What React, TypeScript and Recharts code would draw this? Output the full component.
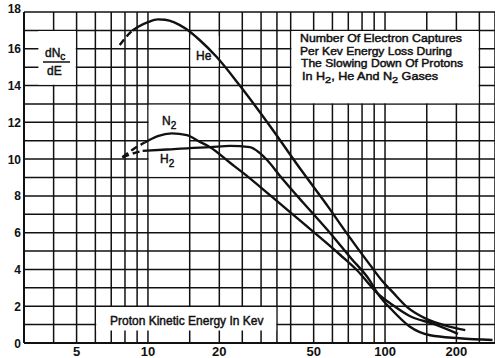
import {
  LineChart,
  Line,
  XAxis,
  YAxis,
  CartesianGrid,
  ReferenceArea,
} from "recharts";

// axis grid and labels
const X_GRID = [3, 4, 5, 6, 7, 8, 9, 10, 15, 20, 25, 30, 35, 40, 50, 60, 70, 80, 90, 100, 150, 200, 250];
const X_LABELS = [5, 10, 20, 50, 100, 200];
const Y_GRID = [0, 1, 2, 3, 4, 5, 6, 7, 8, 9, 10, 11, 12, 13, 14, 15, 16, 17, 18];
const Y_LABELS = [0, 2, 4, 6, 8, 10, 12, 14, 16, 18];

// He (kev, dNc/dE)
const HE_DASH_E = [7.6, 8.1, 8.6];
const HE_DASH_Y = [16.2, 16.65, 17.0];
const HE_E = [8.6, 9.1, 10, 11, 11.8, 14.4, 16.6, 19.5, 24.4, 32.7, 44.6, 58, 67.8, 86.4, 97, 108, 124, 150, 180, 218];
const HE_Y = [17.0, 17.2, 17.45, 17.6, 17.58, 17.1, 16.45, 15.55, 14.0, 11.8, 9.35, 7.35, 6.1, 4.25, 3.4, 2.75, 1.95, 1.3, 0.95, 0.7];

// N2
const N2_DASH_E = [7.8, 8.7, 9.7];
const N2_DASH_Y = [10.1, 10.55, 10.9];
const N2_E = [9.7, 11, 12.6, 14.6, 16.5, 18.3, 22.2, 25.2, 33, 42.5, 64.6, 76, 93, 108, 127, 159, 203];
const N2_Y = [10.9, 11.25, 11.4, 11.3, 10.95, 10.65, 9.8, 9.25, 8.0, 6.8, 4.8, 3.97, 2.7, 2.05, 1.47, 1.05, 0.5];

// H2
const H2_DASH_E = [7.8, 8.6, 9.5];
const H2_DASH_Y = [10.1, 10.3, 10.45];
const H2_E = [9.5, 12, 15, 18.3, 22.2, 26.9, 29.5, 31.8, 36, 45, 58.5, 72, 86, 93, 108, 127, 155, 206, 284];
const H2_Y = [10.45, 10.52, 10.6, 10.65, 10.72, 10.65, 10.35, 9.95, 9.1, 7.65, 6.0, 4.6, 3.42, 2.7, 1.74, 0.9, 0.42, 0.26, 0.16];

// blank patches of the grid behind the printed labels
const MASKS = [
  { x1: 3.45, x2: 4.96, y1: 14.04, y2: 16.96 },
  { x1: 15.11, x2: 19.85, y1: 15.04, y2: 16.7 },
  { x1: 10.07, x2: 14.89, y1: 9.04, y2: 12.96 },
  { x1: 6.05, x2: 34.75, y1: 0.68, y2: 1.96 },
  { x1: 40.3, x2: 248.2, y1: 13.04, y2: 16.96 },
];

const zip = (es: number[], ys: number[]) => es.map((e, i) => ({ e, y: ys[i] }));

const INK = "#111";
const FONT = "'Liberation Sans', Arial, sans-serif";

const XTick = (props: any) => {
  const { x, y, payload } = props;
  if (!X_LABELS.includes(payload.value)) return null;
  return (
    <text x={x} y={y + 13} textAnchor="middle" fontFamily={FONT} fontSize={13} fontWeight="bold" fill={INK}>
      {payload.value}
    </text>
  );
};

const YTick = (props: any) => {
  const { x, y, payload } = props;
  if (!Y_LABELS.includes(payload.value)) return null;
  const shift = payload.value === 18 ? -4 : 0;
  return (
    <text x={x} y={y + 4.5 + shift} textAnchor="end" fontFamily={FONT} fontSize={12} fontWeight="bold" fill={INK}>
      {payload.value}
    </text>
  );
};

const txt = { fontFamily: FONT, fontSize: 12, fill: INK, stroke: INK, strokeWidth: 0.45 };
const title = { ...txt, fontSize: 11 };

export default function App() {
  const series = [
    { key: "he-d", data: zip(HE_DASH_E, HE_DASH_Y), dash: "7 4" },
    { key: "he", data: zip(HE_E, HE_Y) },
    { key: "n2-d", data: zip(N2_DASH_E, N2_DASH_Y), dash: "7 4" },
    { key: "n2", data: zip(N2_E, N2_Y) },
    { key: "h2-d", data: zip(H2_DASH_E, H2_DASH_Y), dash: "7 4" },
    { key: "h2", data: zip(H2_E, H2_Y) },
  ];

  return (
    <div style={{ position: "absolute", left: 0, top: 0, width: 495, height: 358, background: "#fff" }}>
      <LineChart width={495} height={358} margin={{ top: 12, right: 0, bottom: 0, left: 0 }}>
        <CartesianGrid stroke={INK} strokeWidth={1.5} />
        <XAxis
          dataKey="e"
          type="number"
          scale="log"
          domain={[3, 291]}
          allowDataOverflow
          ticks={X_GRID}
          interval={0}
          height={15}
          tickLine={false}
          tickSize={0}
          tickMargin={0}
          tick={<XTick />}
          axisLine={{ stroke: INK, strokeWidth: 2 }}
        />
        <YAxis
          type="number"
          domain={[0, 18]}
          ticks={Y_GRID}
          interval={0}
          width={24}
          tickLine={false}
          tickSize={0}
          tickMargin={3}
          tick={<YTick />}
          axisLine={{ stroke: INK, strokeWidth: 2 }}
        />
        {MASKS.map((m, i) => (
          <ReferenceArea key={`m${i}`} {...m} fill="#fff" fillOpacity={1} stroke="none" ifOverflow="hidden" />
        ))}
        {series.map((s) => (
          <Line
            key={s.key}
            data={s.data}
            dataKey="y"
            type="monotone"
            stroke={INK}
            strokeWidth={2.4}
            strokeDasharray={s.dash}
            dot={false}
            isAnimationActive={false}
          />
        ))}
      </LineChart>
      <svg width={495} height={358} style={{ position: "absolute", left: 0, top: 0, pointerEvents: "none" }}>
        <g {...title}>
          <text x={300} y={42} textLength={162} lengthAdjust="spacingAndGlyphs">Number Of Electron Captures</text>
          <text x={300} y={54.5} textLength={152} lengthAdjust="spacingAndGlyphs">Per Kev Energy Loss During</text>
          <text x={301} y={67} textLength={162} lengthAdjust="spacingAndGlyphs">The Slowing Down Of Protons</text>
          <text x={302} y={79.5} textLength={136} lengthAdjust="spacingAndGlyphs">
            In H<tspan dy={3.5} fontSize={9.5}>2</tspan>
            <tspan dy={-3.5}>, He And N</tspan>
            <tspan dy={3.5} fontSize={9.5}>2</tspan>
            <tspan dy={-3.5}> Gases</tspan>
          </text>
        </g>
        <g {...txt}>
          <text x={110} y={325}>Proton Kinetic Energy In Kev</text>
          <text x={45} y={57}>
            dN<tspan dy={3} fontSize={10}>c</tspan>
          </text>
          <text x={47} y={75}>dE</text>
          <text x={196} y={60}>He</text>
          <text x={162} y={125}>
            N<tspan dy={4} fontSize={10}>2</tspan>
          </text>
          <text x={160} y={163}>
            H<tspan dy={4} fontSize={10}>2</tspan>
          </text>
        </g>
        <line x1={43} x2={70} y1={62} y2={62} stroke={INK} strokeWidth={1.5} />
      </svg>
    </div>
  );
}
